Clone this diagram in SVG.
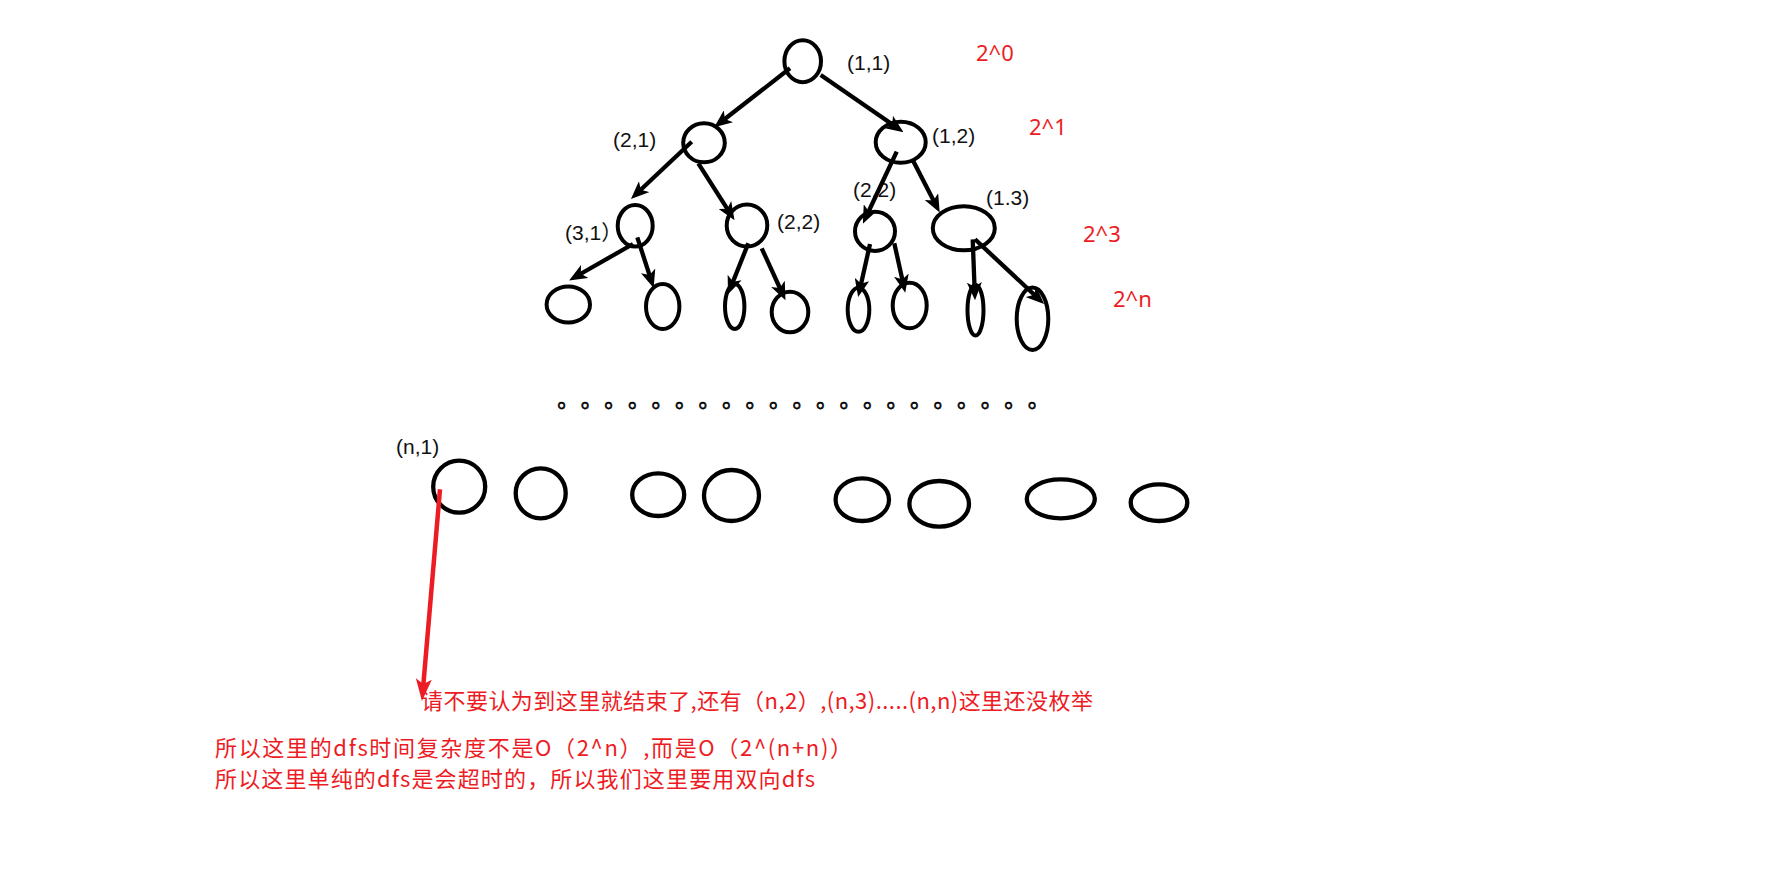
<svg xmlns="http://www.w3.org/2000/svg" width="1776" height="886" viewBox="0 0 1776 886">
<style>
.nd{fill:none;stroke:#000;stroke-width:4}
.nb{fill:none;stroke:#000;stroke-width:4.3}
.lbl{font-family:"Liberation Sans","Noto Sans CJK SC",sans-serif;font-size:21px;fill:#111}
.lvl{font-family:"Noto Sans","Noto Sans CJK SC",sans-serif;font-size:22px;fill:#ED1C24}
.note{font-family:"Noto Sans CJK SC","Noto Sans",sans-serif;font-size:22px;fill:#ED1C24}
.dots{font-family:"Noto Sans CJK SC",sans-serif;font-size:22px;fill:#000;stroke:#000;stroke-width:0.6}
.ar{fill:none;stroke:#000;stroke-width:4.3;marker-end:url(#ah)}
.rar{fill:none;stroke:#ED1C24;stroke-width:4.5;marker-end:url(#rah)}
</style>
<defs>
<marker id="ah" viewBox="0 0 18 15" refX="9" refY="7.5" markerWidth="18" markerHeight="15" markerUnits="userSpaceOnUse" orient="auto">
<path d="M0,0 L18,7.5 L0,15 L4.5,7.5 z" fill="#000"/>
</marker>
<marker id="rah" viewBox="0 0 22 16" refX="11" refY="8" markerWidth="22" markerHeight="16" markerUnits="userSpaceOnUse" orient="auto">
<path d="M0,0 L22,8 L0,16 L5,8 z" fill="#ED1C24"/>
</marker>
</defs>
<rect width="1776" height="886" fill="#fff"/>

<g id="n11"><ellipse class="nd" cx="802.7" cy="61.2" rx="18.3" ry="21"/><text class="lbl" x="847" y="70">(1,1)</text></g>
<g id="n21"><ellipse class="nd" cx="704" cy="142.8" rx="20.8" ry="19.5"/><text class="lbl" x="613" y="147">(2,1)</text></g>
<g id="n12"><ellipse class="nd" cx="900.7" cy="142.2" rx="25" ry="20.5"/><text class="lbl" x="932" y="143">(1,2)</text></g>
<g id="n31"><ellipse class="nd" cx="635.2" cy="225.8" rx="17.5" ry="20.8"/><text class="lbl" x="565" y="240">(3,1）</text></g>
<g id="n22a"><ellipse class="nd" cx="747" cy="225.5" rx="20.3" ry="21"/><text class="lbl" x="777" y="229">(2,2)</text></g>
<g id="n22b"><ellipse class="nd" cx="875" cy="231.3" rx="20" ry="19.6"/><text class="lbl" x="853" y="197">(2,2)</text></g>
<g id="n13"><ellipse class="nd" cx="963.8" cy="228.2" rx="31" ry="22"/><text class="lbl" x="986" y="205">(1.3)</text></g>

<g id="leaf1"><ellipse class="nd" cx="568.3" cy="304.5" rx="21.7" ry="18"/></g>
<g id="leaf2"><ellipse class="nd" cx="662.7" cy="306.5" rx="16.7" ry="22.5"/></g>
<g id="leaf3"><ellipse class="nd" cx="734.7" cy="306.5" rx="9.7" ry="22.5"/></g>
<g id="leaf4"><ellipse class="nd" cx="790" cy="312" rx="18.3" ry="20.3"/></g>
<g id="leaf5"><ellipse class="nd" cx="858.5" cy="309.7" rx="10.8" ry="22"/></g>
<g id="leaf6"><ellipse class="nd" cx="909.7" cy="305.5" rx="17" ry="22.8"/></g>
<g id="leaf7"><ellipse class="nd" cx="975.5" cy="310.3" rx="8" ry="25.3"/></g>
<g id="leaf8"><ellipse class="nd" cx="1032.5" cy="318.8" rx="15.8" ry="31.2"/></g>

<g id="levels">
<text class="lvl" x="976" y="60.5">2^0</text>
<text class="lvl" x="1029" y="134.5">2^1</text>
<text class="lvl" x="1083" y="242">2^3</text>
<text class="lvl" x="1113" y="306.5">2^n</text>
</g>

<text class="dots" x="557.3 580.8 604.3 627.9 651.4 674.9 698.4 721.9 745.5 769 792.5 816 839.5 863.1 886.6 910.1 933.6 957.1 980.7 1004.2 1027.7" y="407">。。。。。。。。。。。。。。。。。。。。。</text>

<g id="nn1"><ellipse class="nb" cx="459.2" cy="486.7" rx="26" ry="26"/><text class="lbl" x="396" y="454">(n,1)</text></g>
<g id="nb2"><ellipse class="nb" cx="540.7" cy="493.3" rx="25" ry="25"/></g>
<g id="nb3"><ellipse class="nb" cx="658.2" cy="494.7" rx="26" ry="21.3"/></g>
<g id="nb4"><ellipse class="nb" cx="731.5" cy="495.5" rx="27.5" ry="25.5"/></g>
<g id="nb5"><ellipse class="nb" cx="862.3" cy="499.7" rx="26.7" ry="21.3"/></g>
<g id="nb6"><ellipse class="nb" cx="939.2" cy="503.8" rx="29.8" ry="22.8"/></g>
<g id="nb7"><ellipse class="nb" cx="1060.8" cy="498.8" rx="34" ry="19.5"/></g>
<g id="nb8"><ellipse class="nb" cx="1159" cy="502.7" rx="28.3" ry="18.3"/></g>

<g id="connectors">
<path class="ar" d="M790,68.3 L721.3,121.8"/>
<path class="ar" d="M820.7,75 L896.1,127.1"/>
<path class="ar" d="M691.7,141.7 L637.5,192.8"/>
<path class="ar" d="M698.3,163.3 L729.7,212.6"/>
<path class="ar" d="M896.7,151.7 L866.7,215.5"/>
<path class="ar" d="M912.7,160 L935.6,204.6"/>
<path class="ar" d="M633,244 L576.9,276"/>
<path class="ar" d="M637.3,237.3 L650.9,279.4"/>
<path class="ar" d="M748.3,243.3 L731.3,285.9"/>
<path class="ar" d="M761.7,248.3 L781.7,292"/>
<path class="ar" d="M870,244 L860.1,288.2"/>
<path class="ar" d="M894.3,243.3 L903.3,283.9"/>
<path class="ar" d="M972.7,239.3 L974.7,291.3"/>
<path class="ar" d="M975,239.3 L1037.5,297.8"/>
<path class="rar" d="M440,489.3 L422.9,690"/>
</g>

<g id="notes">
<text class="note" x="421" y="709" textLength="672" lengthAdjust="spacing">请不要认为到这里就结束了,还有（n,2）,(n,3).....(n,n)这里还没枚举</text>
<text class="note" x="215" y="756" textLength="637" lengthAdjust="spacing">所以这里的dfs时间复杂度不是O（2^n）,而是O（2^(n+n)）</text>
<text class="note" x="215" y="787" textLength="600" lengthAdjust="spacing">所以这里单纯的dfs是会超时的，所以我们这里要用双向dfs</text>
</g>
</svg>
